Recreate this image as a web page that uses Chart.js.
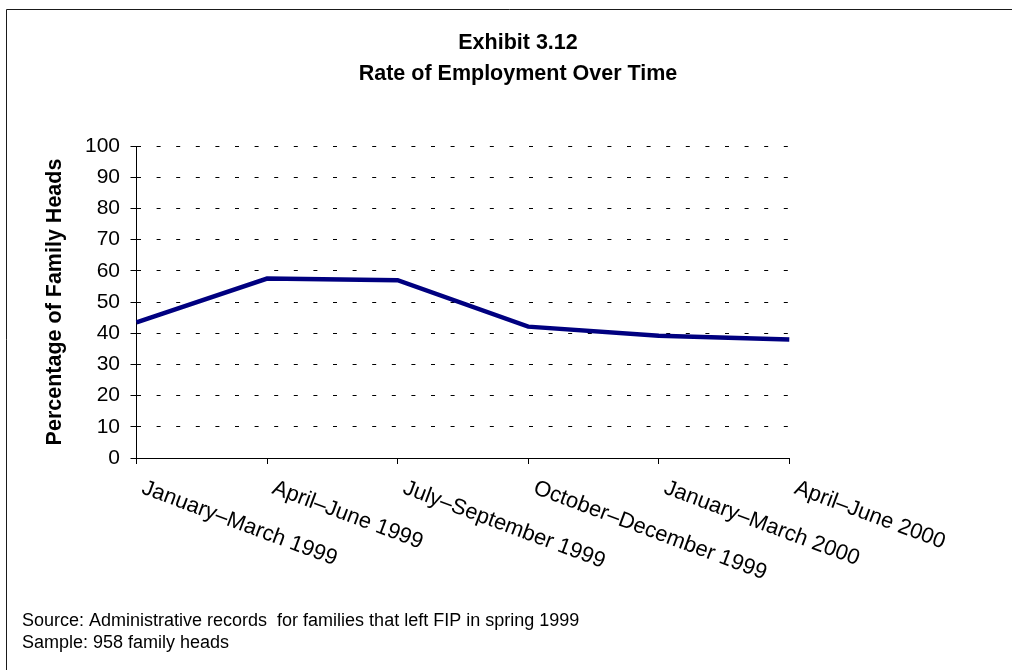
<!DOCTYPE html>
<html>
<head>
<meta charset="utf-8">
<title>Exhibit 3.12 – Rate of Employment Over Time</title>
<script src="https://cdn.jsdelivr.net/npm/chart.js@4.4.0/dist/chart.umd.min.js"></script>
<style>
  html, body { margin: 0; padding: 0; background: #ffffff; }
  #wrap { width: 1012px; height: 670px; position: relative; }
  canvas { display: block; }
</style>
</head>
<body>
<div id="wrap"><canvas id="chart" width="1012" height="670"></canvas></div>
<script>
// Quarterly periods after leaving FIP
const categories = [
  'January–March 1999',
  'April–June 1999',
  'July–September 1999',
  'October–December 1999',
  'January–March 2000',
  'April–June 2000'
];

// Percentage of family heads employed in each quarter
const employmentRate = [43.5, 57.5, 57.0, 42.1, 39.2, 38.0];

// Value axis tick labels
const yTicks = [0, 10, 20, 30, 40, 50, 60, 70, 80, 90, 100];

const titleLines = ['Exhibit 3.12', 'Rate of Employment Over Time'];
const yAxisTitle = 'Percentage of Family Heads';
const notes = [
  'Source: Administrative records  for families that left FIP in spring 1999',
  'Sample: 958 family heads'
];

const FONT = "'Liberation Sans', Arial, Helvetica, sans-serif";
const LABEL_ANGLE = 20.5; // degrees, clockwise

// White page with the exhibit frame (left and top edges)
const framePlugin = {
  id: 'exhibitFrame',
  beforeDraw(chart) {
    const { ctx, width, height } = chart;
    ctx.save();
    ctx.fillStyle = '#ffffff';
    ctx.fillRect(0, 0, width, height);
    ctx.strokeStyle = '#1a1a1a';
    ctx.lineWidth = 1;
    ctx.beginPath();
    ctx.moveTo(6.5, height);
    ctx.lineTo(6.5, 9.5);
    ctx.lineTo(width, 9.5);
    ctx.stroke();
    ctx.restore();
  }
};

// Slanted category labels hanging below each x tick, plus the source notes
const labelsPlugin = {
  id: 'slantedLabelsAndNotes',
  afterDraw(chart) {
    const { ctx } = chart;
    const xScale = chart.scales.x;
    ctx.save();
    ctx.fillStyle = '#000000';
    ctx.font = `22px ${FONT}`;
    ctx.textAlign = 'left';
    ctx.textBaseline = 'top';
    categories.forEach((label, i) => {
      const px = xScale.getPixelForValue(i);
      ctx.save();
      ctx.translate(px + 10, xScale.top + 19);
      ctx.rotate(LABEL_ANGLE * Math.PI / 180);
      ctx.fillText(label, 0, 0);
      ctx.restore();
    });

    ctx.font = `18px ${FONT}`;
    ctx.textBaseline = 'middle';
    notes.forEach((line, i) => {
      ctx.fillText(line, 22, 621 + i * 22);
    });
    ctx.restore();
  }
};

new Chart(document.getElementById('chart'), {
  type: 'line',
  data: {
    labels: categories,
    datasets: [{
      label: 'Employed',
      data: employmentRate,
      borderColor: '#000080',
      backgroundColor: '#000080',
      borderWidth: 4.5,
      pointRadius: 0,
      pointHoverRadius: 0,
      tension: 0,
      fill: false
    }]
  },
  options: {
    responsive: false,
    devicePixelRatio: 1,
    animation: false,
    events: [],
    layout: { padding: { left: 24, right: 0, top: 0, bottom: 0 } },
    plugins: {
      legend: { display: false },
      tooltip: { enabled: false },
      title: {
        display: true,
        text: titleLines,
        color: '#000000',
        font: { family: FONT, size: 21.5, weight: 'bold', lineHeight: 31 / 21.5 },
        padding: { top: 28, bottom: 56 }
      }
    },
    scales: {
      x: {
        type: 'category',
        offset: false,
        afterFit(scale) { scale.height = 212; },
        ticks: { display: false, autoSkip: false },
        grid: {
          drawOnChartArea: false,
          drawTicks: true,
          tickLength: 6,
          tickColor: '#000000',
          color: '#000000'
        },
        border: { display: true, color: '#000000', width: 1 }
      },
      y: {
        type: 'linear',
        position: 'left',
        min: 0,
        max: 100,
        afterFit(scale) { scale.width = 112.5; },
        afterBuildTicks(scale) { scale.ticks = yTicks.map(v => ({ value: v })); },
        ticks: {
          color: '#000000',
          font: { family: FONT, size: 21 },
          padding: 10.5
        },
        title: {
          display: true,
          text: yAxisTitle,
          color: '#000000',
          font: { family: FONT, size: 21.5, weight: 'bold' },
          padding: { top: 18, bottom: 0 }
        },
        grid: {
          color: '#000000',
          lineWidth: 1,
          drawTicks: true,
          tickLength: 6,
          tickColor: '#000000'
        },
        border: { display: true, color: '#000000', width: 1, dash: [4, 15.6] }
      },
      // empty margin axis that keeps the plot clear of the right part of the page
      margin: {
        type: 'linear',
        position: 'right',
        display: true,
        afterFit(scale) { scale.width = 222.7; },
        ticks: { display: false },
        grid: { display: false, drawTicks: false },
        border: { display: false }
      }
    }
  },
  plugins: [framePlugin, labelsPlugin]
});
</script>
</body>
</html>
